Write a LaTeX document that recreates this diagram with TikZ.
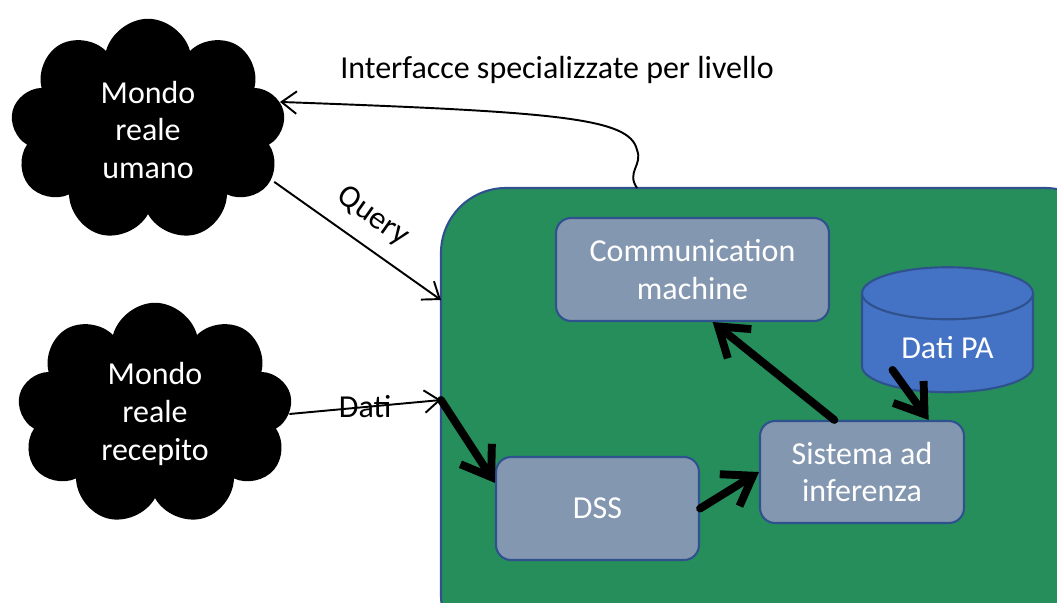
\documentclass[tikz,border=0pt]{standalone}
\usepackage{fontspec}
\setmainfont{Carlito}
\usepackage{tikz}
\usetikzlibrary{shapes, positioning, arrows.meta}
\definecolor{sysgreen}{RGB}{37,142,90}
\definecolor{edgeblue}{RGB}{47,82,143}
\definecolor{blockgrey}{RGB}{132,151,176}
\definecolor{datablue}{RGB}{68,114,196}

\begin{document}
\begin{tikzpicture}[x=0.02cm, y=-0.02cm, font=\fontsize{18.2}{21.6}\selectfont,
    world/.style = {cloud, cloud puffs=9, fill=black, text=white, align=center, minimum width=5.5cm, minimum height=4.45cm},
    block/.style = {draw=edgeblue, line width=1.2pt, fill=blockgrey, rounded corners=0.3cm, text=white, align=center},
    link/.style = {-{Straight Barb[length=0.3cm, width=0.45cm]}, line width=1.1pt},
    flow/.style = {-{Straight Barb[length=0.55cm, width=0.75cm]}, line width=4.5pt, line cap=round}]
    \useasboundingbox (0,0) rectangle (1057,602);
    \clip (0,0) rectangle (1057,602);

    \draw[fill=sysgreen, draw=edgeblue, line width=1.2pt, rounded corners=1.3cm] (441,188) rectangle (1110,660);

    \node[world] (umano) at (148,130) {Mondo\\reale\\umano};
    \node[world] (recepito) at (155,414) {Mondo\\reale\\recepito};

    \node[block, minimum width=5.46cm, minimum height=2.06cm] (comm) at (692.5,269.5) {Communication\\machine};
    \node[cylinder, shape border rotate=90, aspect=0.5, draw=edgeblue, line width=1.2pt, fill=datablue, text=white,
        minimum width=3.42cm, minimum height=2.5cm] (pa) at (947.5,348) {\raisebox{-0.35cm}{Dati PA}};
    \node[block, minimum width=4.08cm, minimum height=2.04cm] (infer) at (862,472) {Sistema ad\\inferenza};
    \node[block, minimum width=4.06cm, minimum height=2.06cm] (dss) at (597.5,508.5) {DSS};

    \coordinate (ifout) at (637,188);
    \coordinate (queryin) at (441,300);
    \coordinate (datiin) at (441,400);
    \node (iflabel) at (557,70) {Interfacce specializzate per livello};

    \draw[link] (ifout) .. controls (626,172) and (643,165) .. (637,150) .. controls (630,118) and (560,112) .. (umano.12);
    \draw[link, shorten <=2pt] (umano.-22) -- node[midway, above=5pt, sloped] {Query} (queryin);
    \draw[link] (recepito.east) -- node[midway, above, yshift=-10pt] {Dati} (datiin);

    \draw[flow] (datiin) -- (dss.166);
    \draw[flow] (dss.east) -- (infer.west);
    \draw[flow] (infer.118) -- (comm.-69);
    \draw[flow] ([shift={(-55,22)}]pa.center) -- (infer.38);
\end{tikzpicture}
\end{document}
